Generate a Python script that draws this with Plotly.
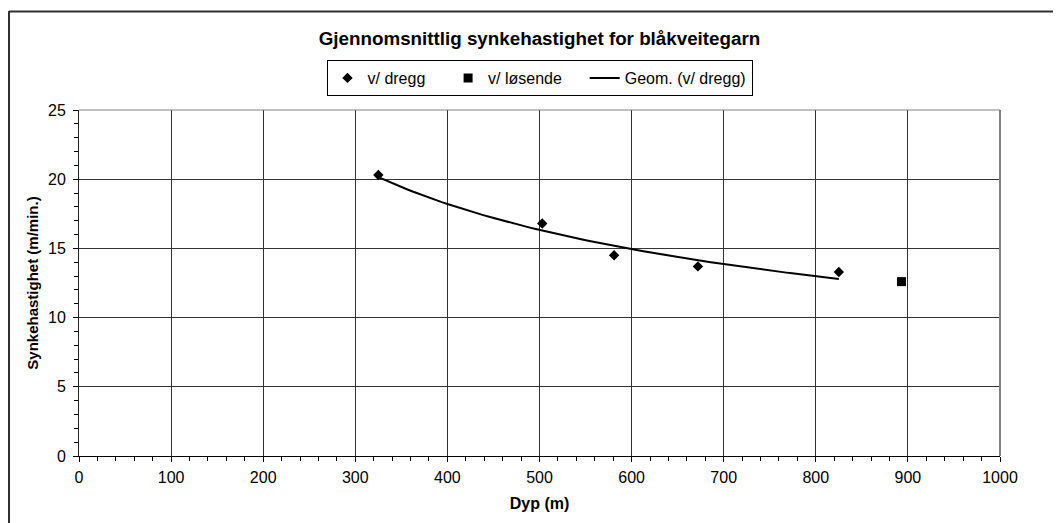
import numpy as np
import plotly.graph_objects as go

# Data
dregg_depth = [325, 503, 581, 672, 825]
dregg_speed = [20.3, 16.8, 14.5, 13.7, 13.3]
losende_depth = [893]
losende_speed = [12.6]

series_names = ["v/ dregg", "v/ løsende", "Geom. (v/ dregg)"]
title_text = "Gjennomsnittlig synkehastighet for blåkveitegarn"
x_title = "Dyp (m)"
y_title = "Synkehastighet (m/min.)"

# Power ("Geom.") trendline fitted to the v/ dregg series
b, loga = np.polyfit(np.log(dregg_depth), np.log(dregg_speed), 1)
xt = np.linspace(min(dregg_depth), max(dregg_depth), 80)
yt = np.exp(loga) * xt ** b

FONT = "Liberation Sans, Arial, sans-serif"
PAD = "\u00a0" * 4  # extra spacing between legend entries

fig = go.Figure()
fig.add_trace(go.Scatter(x=dregg_depth, y=dregg_speed, mode="markers", name=series_names[0] + PAD,
                         marker=dict(symbol="diamond", size=8, color="black")))
fig.add_trace(go.Scatter(x=losende_depth, y=losende_speed, mode="markers", name=series_names[1] + PAD,
                         marker=dict(symbol="square", size=9, color="black")))
fig.add_trace(go.Scatter(x=xt, y=yt, mode="lines", name=series_names[2],
                         line=dict(color="black", width=2)))

OFF = 8  # page offset of the figure in the window
W, H = 1053, 515
# plot area in screen pixels
SL, SR, ST, SB = 79, 1000, 110, 456
L, R, T, B = SL - OFF, W - (SR - OFF), ST - OFF, H - (SB - OFF)
pw = SR - SL
ph = SB - ST

def px(xpix):
    return (xpix - SL) / pw

def py(ypix):
    return (SB - ypix) / ph

fig.update_layout(
    width=W, height=H,
    margin=dict(l=L, r=R, t=T, b=B),
    paper_bgcolor="white", plot_bgcolor="white",
    font=dict(family=FONT, size=16, color="black"),
    title=dict(text="<b>" + title_text + "</b>", x=(SL - OFF + pw / 2) / W, xanchor="center",
               y=1 - (38 - OFF) / H, yanchor="middle", font=dict(size=18.8, family=FONT)),
    showlegend=True,
    legend=dict(orientation="h", x=0.5, xanchor="center", y=py(60), yanchor="top",
                bordercolor="black", borderwidth=1, bgcolor="white",
                font=dict(size=16, family=FONT), itemwidth=30, tracegroupgap=0),
    xaxis=dict(range=[0, 1000], dtick=100, tick0=0, showgrid=True, gridcolor="#333333", gridwidth=1,
               showline=True, linecolor="black", linewidth=1, zeroline=False,
               ticks="outside", ticklen=5, tickcolor="black",
               minor=dict(dtick=20, ticks="outside", ticklen=4, tickcolor="black", showgrid=False),
               title=dict(text="<b>" + x_title + "</b>", font=dict(size=16), standoff=12),
               tickfont=dict(size=16), ticklabelstandoff=2),
    yaxis=dict(range=[0, 25], dtick=5, tick0=0, showgrid=True, gridcolor="#333333", gridwidth=1,
               showline=True, linecolor="#202020", linewidth=1, zeroline=False,
               ticks="outside", ticklen=5, tickcolor="black",
               minor=dict(dtick=1, ticks="outside", ticklen=4, tickcolor="black", showgrid=False),
               title=dict(text="<b>" + y_title + "</b>", font=dict(size=15), standoff=5),
               tickfont=dict(size=16), ticklabelstandoff=4),
    shapes=[
        # plot-area border (right and top)
        dict(type="line", xref="paper", yref="paper", x0=1, x1=1, y0=0, y1=1,
             line=dict(color="#808080", width=2)),
        dict(type="line", xref="paper", yref="paper", x0=0, x1=1, y0=1, y1=1,
             line=dict(color="#808080", width=1)),
        # outer chart border
        dict(type="line", xref="paper", yref="paper", x0=px(9), x1=px(1075), y0=py(11.5), y1=py(11.5),
             line=dict(color="#303030", width=2)),
        dict(type="line", xref="paper", yref="paper", x0=px(9), x1=px(9), y0=py(11), y1=py(540),
             line=dict(color="#303030", width=2)),
    ],
)

fig.write_html("out.html")
